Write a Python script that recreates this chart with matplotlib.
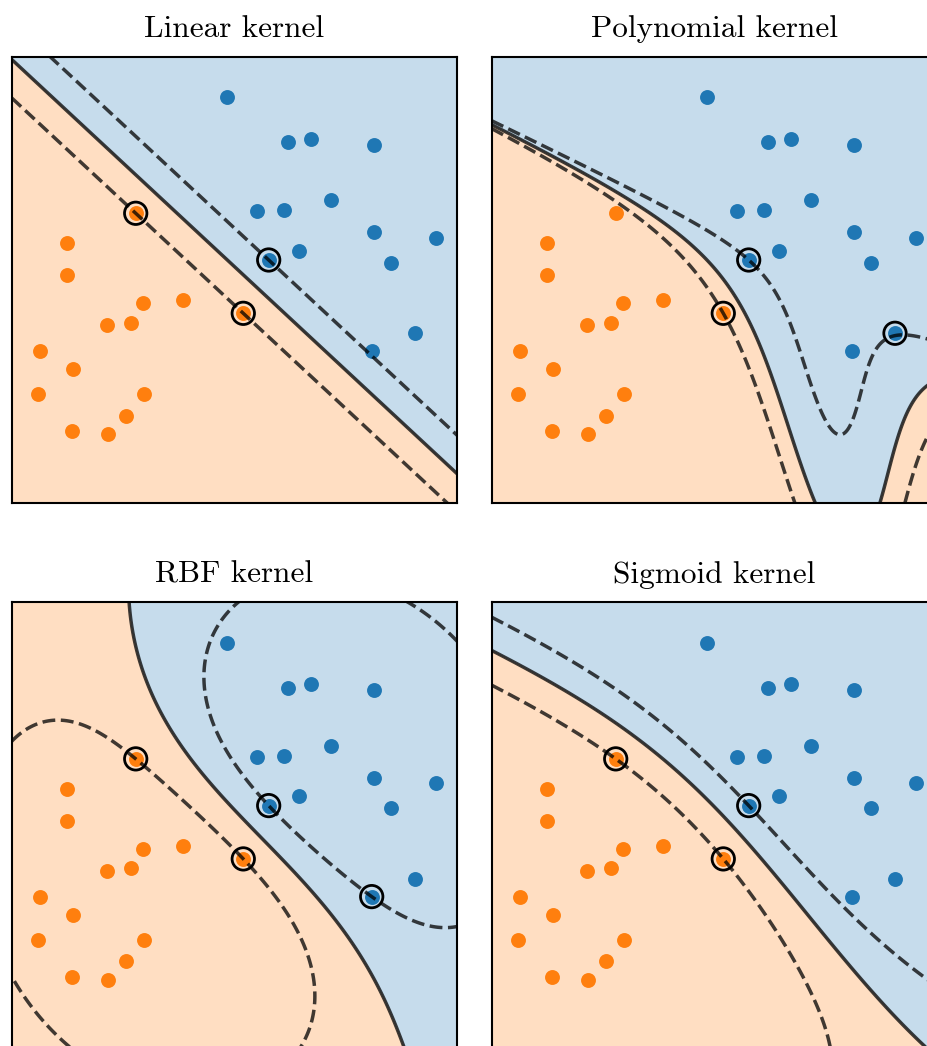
import numpy as np
import matplotlib
matplotlib.use("Agg")
import matplotlib.pyplot as plt

# Two classes of points
orange_x = [2.787, 1.236, 1.236, 2.951, 3.856, 2.135, 2.674, 0.636, 1.371, 0.591, 2.973, 2.562, 1.348, 2.157, 5.204]
orange_y = [6.494, 5.822, 5.101, 4.478, 4.552, 3.992, 4.044, 3.404, 3.000, 2.441, 2.441, 1.961, 1.619, 1.552, 4.254]
blue_x = [4.831, 6.202, 6.719, 8.135, 5.506, 6.112, 7.175, 8.135, 9.535, 6.449, 5.775, 8.517, 8.090, 9.063]
blue_y = [9.091, 8.083, 8.164, 8.030, 6.545, 6.567, 6.791, 6.075, 5.947, 5.656, 5.448, 5.387, 3.410, 3.807]

titles = ['Linear kernel', 'Polynomial kernel', 'RBF kernel', 'Sigmoid kernel']

X = np.c_[orange_x + blue_x, orange_y + blue_y]
y = np.r_[-np.ones(len(orange_x)), np.ones(len(blue_x))]


def fit_svm(K, y, C, tol=1e-4, max_iter=100000):
    # simple SMO on the dual problem
    n = len(y)
    Q = np.outer(y, y) * K
    a = np.zeros(n)
    G = -np.ones(n)
    for _ in range(max_iter):
        v = -y * G
        up = ((y > 0) & (a < C)) | ((y < 0) & (a > 0))
        lo = ((y > 0) & (a > 0)) | ((y < 0) & (a < C))
        iu = np.where(up)[0]
        il = np.where(lo)[0]
        i = iu[np.argmax(v[iu])]
        j = il[np.argmin(v[il])]
        if v[i] - v[j] < tol:
            break
        quad = max(K[i, i] + K[j, j] - 2 * K[i, j], 1e-12)
        t = (v[i] - v[j]) / quad
        t = min(t, C - a[i] if y[i] > 0 else a[i], a[j] if y[j] > 0 else C - a[j])
        a[i] += y[i] * t
        a[j] -= y[j] * t
        G += Q[:, i] * (y[i] * t) - Q[:, j] * (y[j] * t)
    v = -y * G
    free = (a > 1e-8) & (a < C - 1e-8)
    if free.any():
        b = v[free].mean()
    else:
        up = ((y > 0) & (a < C)) | ((y < 0) & (a > 0))
        lo = ((y > 0) & (a > 0)) | ((y < 0) & (a < C))
        b = (v[up].max() + v[lo].min()) / 2
    return a, b


def kern(name, A, B):
    if name == 'linear':
        return A @ B.T
    if name == 'poly':
        o = np.array([7.5, 5.0])
        gam = 1 / (2 * (X - o).var())
        return (gam * (A - o) @ (B - o).T) ** 3
    if name == 'rbf':
        d2 = ((A[:, None, :] - B[None, :, :]) ** 2).sum(-1)
        return np.exp(-0.06 * d2)
    o = np.array([6.25, 6.25])
    gam = 1 / (2 * (X - o).var())
    return np.tanh(gam * (A - o) @ (B - o).T)


g = np.linspace(0, 10.3, 400)
GX, GY = np.meshgrid(g, g)
P = np.c_[GX.ravel(), GY.ravel()]

fig = plt.figure(figsize=(9.28, 10.46), dpi=100)
boxes = [(11.7, 56.7), (491.7, 56.7), (11.7, 602.3), (491.7, 602.3)]
kernels = ['linear', 'poly', 'rbf', 'sigmoid']
Cs = [1e4, 1e4, 1e4, 1000.0]

for (px, py), name, C, title in zip(boxes, kernels, Cs, titles):
    ax = fig.add_axes([px / 928, 1 - (py + 446.6) / 1046, 445 / 928, 446.6 / 1046])
    a, b = fit_svm(kern(name, X, X), y, C)
    Z = (kern(name, P, X) @ (a * y) + b).reshape(GX.shape)
    fx = kern(name, X, X) @ (a * y) + b
    ax.contourf(GX, GY, Z, levels=[Z.min() - 1, 0, Z.max() + 1], colors=['tab:orange', 'tab:blue'], alpha=0.25)
    ax.scatter(orange_x, orange_y, s=115, color='tab:orange', linewidths=0, zorder=3)
    ax.scatter(blue_x, blue_y, s=115, color='tab:blue', linewidths=0, zorder=3)
    ax.contour(GX, GY, Z, levels=[-1, 0, 1], colors='k', alpha=0.75,
               linestyles=['--', '-', '--'], linewidths=2.5, zorder=4)
    # support vectors: nonzero weight, or lying on the margin
    sv = (a > 1e-6) | (y * fx < 1.05)
    ax.scatter(X[sv, 0], X[sv, 1], s=260, facecolors='none', edgecolors='k', linewidths=2, zorder=5)
    ax.set_xlim(0, 10)
    ax.set_ylim(0, 10)
    ax.set_xticks([])
    ax.set_yticks([])
    for s in ax.spines.values():
        s.set_linewidth(1.5)
    ax.set_title(title, fontfamily='cmr10', fontsize=22.5, pad=14)

fig.savefig('out.png', dpi=100)
